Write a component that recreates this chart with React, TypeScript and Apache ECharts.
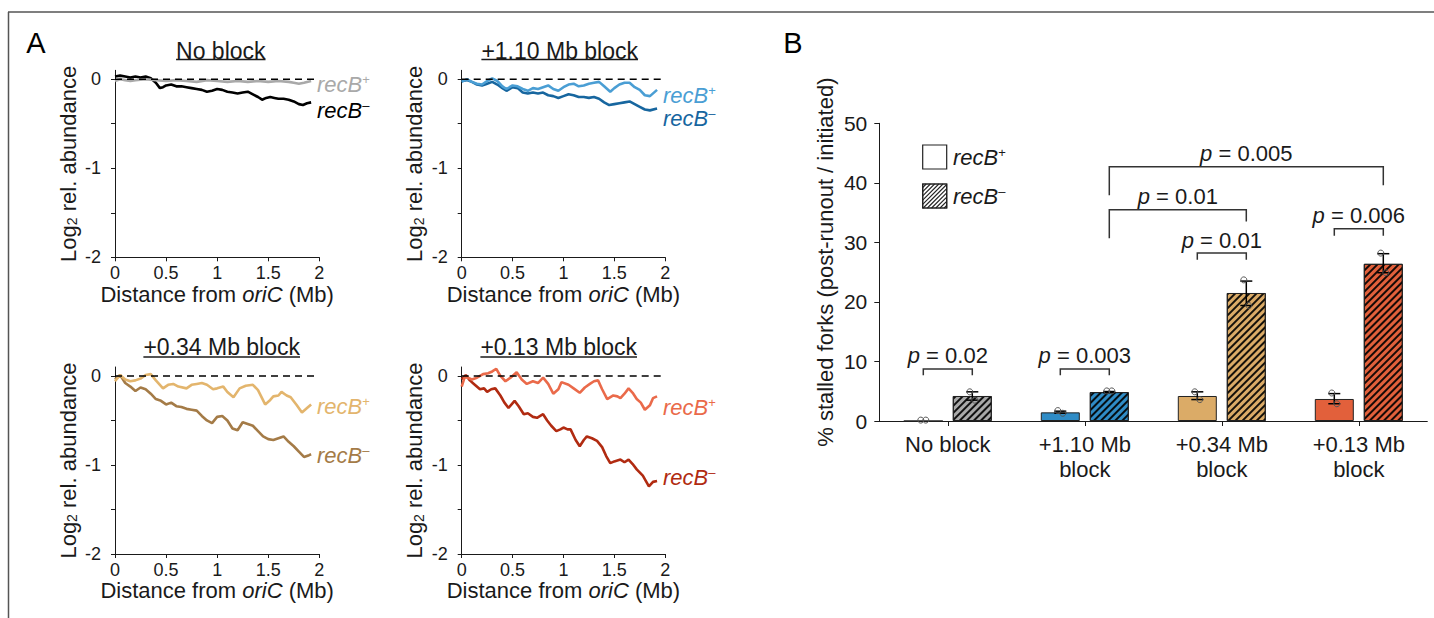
import React, { useEffect, useRef } from 'react';
import * as echarts from 'echarts';

const FONT = '"Liberation Sans", Arial, Helvetica, sans-serif';
const INK = '#1a1a1a';

// ---------------- Panel A data (distance from oriC in Mb, log2 relative abundance) ----------------
const noBlockPlusX = [0, 0.05, 0.1, 0.15, 0.2, 0.3, 0.4, 0.5, 0.6, 0.7, 0.8, 0.9, 1.0, 1.1, 1.2, 1.3, 1.4, 1.5, 1.6, 1.7, 1.75, 1.8, 1.85, 1.92];
const noBlockPlusY = [-0.02, 0.0, -0.01, -0.02, -0.01, 0.0, -0.01, -0.02, -0.01, -0.02, -0.03, -0.01, -0.02, -0.03, -0.02, -0.03, -0.02, -0.03, -0.02, -0.03, -0.04, -0.05, -0.04, -0.02];
const noBlockMinusX = [0, 0.05, 0.1, 0.15, 0.2, 0.25, 0.3, 0.35, 0.4, 0.44, 0.47, 0.5, 0.55, 0.6, 0.65, 0.7, 0.75, 0.8, 0.85, 0.9, 0.95, 1.0, 1.05, 1.1, 1.15, 1.2, 1.25, 1.3, 1.35, 1.4, 1.44, 1.48, 1.52, 1.56, 1.6, 1.65, 1.7, 1.75, 1.8, 1.84, 1.88, 1.92];
const noBlockMinusY = [0.03, 0.04, 0.03, 0.02, 0.03, 0.02, 0.03, 0.01, -0.04, -0.1, -0.09, -0.07, -0.06, -0.08, -0.08, -0.09, -0.1, -0.11, -0.12, -0.14, -0.13, -0.11, -0.12, -0.14, -0.15, -0.16, -0.15, -0.14, -0.17, -0.2, -0.23, -0.21, -0.2, -0.21, -0.22, -0.22, -0.23, -0.25, -0.28, -0.29, -0.27, -0.26];

const b110PlusX = [0, 0.05, 0.1, 0.15, 0.2, 0.25, 0.3, 0.35, 0.4, 0.44, 0.5, 0.55, 0.6, 0.65, 0.7, 0.75, 0.8, 0.85, 0.9, 0.95, 1.0, 1.05, 1.1, 1.15, 1.2, 1.25, 1.3, 1.35, 1.4, 1.46, 1.5, 1.55, 1.6, 1.65, 1.7, 1.75, 1.8, 1.85, 1.92];
const b110PlusY = [-0.03, 0.0, -0.03, -0.05, -0.06, -0.02, 0.01, -0.02, -0.08, -0.11, -0.07, -0.08, -0.11, -0.13, -0.1, -0.11, -0.09, -0.07, -0.11, -0.13, -0.09, -0.06, -0.05, -0.08, -0.07, -0.05, -0.04, -0.03, -0.08, -0.14, -0.1, -0.06, -0.04, -0.04, -0.09, -0.12, -0.18, -0.19, -0.12];
const b110MinusX = [0, 0.05, 0.1, 0.15, 0.2, 0.25, 0.3, 0.35, 0.4, 0.44, 0.5, 0.55, 0.6, 0.65, 0.7, 0.75, 0.8, 0.85, 0.9, 0.95, 1.0, 1.05, 1.1, 1.15, 1.2, 1.25, 1.3, 1.35, 1.4, 1.45, 1.5, 1.55, 1.6, 1.65, 1.7, 1.75, 1.8, 1.85, 1.92];
const b110MinusY = [-0.02, -0.01, -0.03, -0.06, -0.07, -0.05, -0.03, -0.06, -0.1, -0.13, -0.09, -0.1, -0.15, -0.16, -0.15, -0.16, -0.15, -0.18, -0.19, -0.21, -0.19, -0.17, -0.18, -0.2, -0.2, -0.21, -0.2, -0.22, -0.26, -0.29, -0.28, -0.27, -0.26, -0.25, -0.28, -0.31, -0.34, -0.35, -0.33];

const b034PlusX = [0, 0.05, 0.1, 0.15, 0.2, 0.25, 0.3, 0.35, 0.4, 0.47, 0.52, 0.57, 0.62, 0.7, 0.75, 0.8, 0.85, 0.9, 0.96, 1.0, 1.06, 1.1, 1.16, 1.22, 1.28, 1.35, 1.4, 1.47, 1.52, 1.55, 1.6, 1.63, 1.68, 1.72, 1.78, 1.83, 1.88, 1.92];
const b034PlusY = [-0.06, 0.01, -0.04, -0.06, -0.05, -0.03, 0.01, 0.02, -0.05, -0.14, -0.1, -0.09, -0.12, -0.14, -0.1, -0.09, -0.08, -0.1, -0.15, -0.14, -0.12, -0.18, -0.24, -0.14, -0.11, -0.1, -0.16, -0.32, -0.27, -0.23, -0.22, -0.18, -0.22, -0.24, -0.33, -0.41, -0.36, -0.32];
const b034MinusX = [0, 0.05, 0.1, 0.15, 0.2, 0.25, 0.3, 0.35, 0.4, 0.45, 0.5, 0.55, 0.6, 0.65, 0.7, 0.75, 0.8, 0.85, 0.9, 0.95, 1.0, 1.05, 1.1, 1.15, 1.2, 1.25, 1.3, 1.35, 1.4, 1.45, 1.5, 1.55, 1.6, 1.65, 1.7, 1.75, 1.8, 1.85, 1.9, 1.92];
const b034MinusY = [-0.04, 0.01, -0.08, -0.12, -0.17, -0.13, -0.15, -0.2, -0.26, -0.28, -0.32, -0.3, -0.34, -0.35, -0.37, -0.38, -0.39, -0.45, -0.5, -0.53, -0.46, -0.45, -0.5, -0.59, -0.61, -0.52, -0.54, -0.56, -0.62, -0.68, -0.71, -0.72, -0.7, -0.68, -0.74, -0.79, -0.85, -0.91, -0.89, -0.88];

const b013PlusX = [0, 0.03, 0.06, 0.1, 0.15, 0.21, 0.26, 0.3, 0.34, 0.38, 0.43, 0.48, 0.54, 0.59, 0.64, 0.7, 0.75, 0.8, 0.85, 0.9, 0.95, 0.98, 1.05, 1.1, 1.16, 1.21, 1.26, 1.3, 1.34, 1.38, 1.43, 1.49, 1.53, 1.56, 1.6, 1.64, 1.68, 1.72, 1.76, 1.8, 1.85, 1.88, 1.92];
const b013PlusY = [-0.12, -0.01, -0.02, -0.04, -0.02, 0.02, 0.03, 0.05, 0.08, 0.0, -0.06, -0.02, 0.04, -0.04, -0.09, -0.06, -0.08, -0.02, -0.09, -0.2, -0.15, -0.07, -0.1, -0.14, -0.19, -0.13, -0.09, -0.06, -0.05, -0.15, -0.26, -0.22, -0.23, -0.25, -0.2, -0.14, -0.19, -0.26, -0.3, -0.38, -0.33, -0.25, -0.23];
const b013MinusX = [0, 0.04, 0.08, 0.12, 0.18, 0.22, 0.25, 0.29, 0.33, 0.38, 0.42, 0.46, 0.52, 0.56, 0.61, 0.65, 0.7, 0.74, 0.8, 0.84, 0.88, 0.93, 0.97, 1.0, 1.04, 1.07, 1.12, 1.16, 1.2, 1.23, 1.28, 1.33, 1.38, 1.42, 1.46, 1.5, 1.56, 1.6, 1.64, 1.68, 1.72, 1.78, 1.84, 1.88, 1.92];
const b013MinusY = [-0.04, 0.01, -0.05, -0.09, -0.15, -0.14, -0.18, -0.15, -0.14, -0.22, -0.3, -0.36, -0.28, -0.34, -0.43, -0.42, -0.46, -0.47, -0.43, -0.5, -0.56, -0.62, -0.6, -0.58, -0.6, -0.6, -0.72, -0.79, -0.72, -0.68, -0.7, -0.73, -0.8, -0.9, -0.98, -0.96, -0.94, -0.97, -0.94, -0.99, -1.05, -1.12, -1.24, -1.19, -1.18];

const panelTitles = ['No block', '+1.10 Mb block', '+0.34 Mb block', '+0.13 Mb block'];
const panelPlusColors = ['#a9a9a9', '#4a9ed4', '#e3b56d', '#ea6a4a'];
const panelMinusColors = ['#000000', '#17669f', '#a47b47', '#b12b11'];
const baselineX = [0, 1.96];
const baselineY = [0, 0];

// ---------------- Panel B data ----------------
const categories = ['No block', '+1.10 Mb\nblock', '+0.34 Mb\nblock', '+0.13 Mb\nblock'];
const barFill = ['#a9a9a9', '#2f8cc6', '#dbab67', '#e2603b'];
const recBPlusMean = [0, 1.45, 4.2, 3.7];
const recBMinusMean = [4.2, 4.85, 21.5, 26.4];
const recBPlusErrLow = [null, 1.3, 3.6, 2.9];
const recBPlusErrHigh = [null, 1.65, 4.9, 4.6];
const recBMinusErrLow = [3.5, 4.75, 19.4, 24.9];
const recBMinusErrHigh = [4.9, 4.95, 23.5, 28.1];
const recBPlusRepA = [0.15, 1.75, 4.9, 4.7];
const recBPlusRepB = [0.15, 1.3, 3.6, 2.9];
const recBMinusRepA = [4.9, 5.05, 23.7, 28.2];
const recBMinusRepB = [3.5, 5.05, 19.4, 24.9];

const bracketFromCat = [0, 1, 2, 3, 1, 1];
const bracketFromSide = [-1, -1, -1, -1, 1, 1];
const bracketToCat = [0, 1, 2, 3, 2, 3];
const bracketToSide = [1, 1, 1, 1, 1, 1];
const bracketTop = [8.75, 8.75, 28.2, 32.3, 35.5, 42.7];
const bracketLeftEnd = [7.7, 7.7, 27.1, 31.1, 30.7, 37.9];
const bracketRightEnd = [7.7, 7.7, 27.1, 31.1, 33.5, 39.6];
const bracketP = ['0.02', '0.003', '0.01', '0.006', '0.01', '0.005'];

// ---------------- layout ----------------
const A_GRIDS = [
  { left: 115, top: 70.3, width: 204.3, height: 187 },
  { left: 461.7, top: 70.3, width: 203.5, height: 187 },
  { left: 115, top: 367, width: 204.3, height: 187 },
  { left: 461.7, top: 367, width: 203.5, height: 187 },
];
const B_GRID = { left: 879.3, top: 123.3, width: 548, height: 297.7 };
const BAR_OFFSET = 24.5;
const TITLE_POS = [[220.8, 51, 59.5], [559.7, 51, 59.5], [221.7, 347, 357], [558.7, 347, 357]];
const END_LABEL_POS = [[317, 84, 110], [663, 95, 118], [317, 406, 455], [663, 407, 477]];

const HATCH = {
  symbol: 'rect',
  symbolSize: 1,
  dashArrayX: [1, 0],
  dashArrayY: [1.4, 2.4],
  rotation: -Math.PI / 4,
  color: 'rgba(0,0,0,0.9)',
};

function textWidth(t: string, size: number) {
  const c = document.createElement('canvas').getContext('2d');
  if (!c) return t.length * size * 0.5;
  c.font = `${size}px "Liberation Sans", Arial, sans-serif`;
  return c.measureText(t).width;
}

function zip(xs: number[], ys: number[]) {
  return xs.map((x, i) => [x, ys[i]]);
}

function recLabel(sign: string, color: string, size = 22) {
  return {
    text: `{b|recB}{s|${sign}}`,
    rich: {
      b: { fontSize: size, fontStyle: 'italic', fontFamily: FONT, fill: color },
      s: { fontSize: Math.round(size * 0.6), fontFamily: FONT, fill: color, verticalAlign: 'top' },
    },
  };
}

export default function App() {
  const ref = useRef<HTMLDivElement>(null);

  useEffect(() => {
    if (!ref.current) return;
    const chart = echarts.init(ref.current, undefined, { renderer: 'svg' });

    const plusSets = [
      zip(noBlockPlusX, noBlockPlusY),
      zip(b110PlusX, b110PlusY),
      zip(b034PlusX, b034PlusY),
      zip(b013PlusX, b013PlusY),
    ];
    const minusSets = [
      zip(noBlockMinusX, noBlockMinusY),
      zip(b110MinusX, b110MinusY),
      zip(b034MinusX, b034MinusY),
      zip(b013MinusX, b013MinusY),
    ];

    const grids: any[] = A_GRIDS.map((g) => ({ ...g, outerBoundsMode: 'none', containLabel: false }));
    grids.push({ ...B_GRID, outerBoundsMode: 'none', containLabel: false });

    const axisLineStyle = { color: INK, width: 1 };

    const xAxes: any[] = A_GRIDS.map((_, i) => ({
      type: 'value',
      gridIndex: i,
      min: 0,
      max: 2,
      interval: 0.5,
      axisLine: { show: true, onZero: false, lineStyle: axisLineStyle },
      axisTick: { show: true, length: 4, lineStyle: axisLineStyle },
      splitLine: { show: false },
      axisLabel: { fontSize: 18, color: INK, fontFamily: FONT, margin: 7 },
      name: '{n|Distance from }{i|oriC}{n| (Mb)}',
      nameLocation: 'middle',
      nameGap: 24,
      nameTextStyle: {
        color: INK,
        fontSize: 22,
        fontFamily: FONT,
        rich: {
          n: { fontSize: 22, fontFamily: FONT, color: INK },
          i: { fontSize: 22, fontFamily: FONT, fontStyle: 'italic', color: INK },
        },
      },
    }));
    xAxes.push({
      type: 'category',
      gridIndex: 4,
      data: categories,
      axisLine: { show: true, onZero: false, lineStyle: axisLineStyle },
      axisTick: { show: true, alignWithLabel: true, length: 5, lineStyle: axisLineStyle },
      axisLabel: { fontSize: 22, lineHeight: 25, color: INK, fontFamily: FONT, margin: 11 },
      splitLine: { show: false },
    });

    const yAxes: any[] = A_GRIDS.map((_, i) => ({
      type: 'value',
      gridIndex: i,
      min: -2,
      max: 0.1,
      axisLine: { show: true, onZero: false, lineStyle: axisLineStyle },
      axisTick: { show: true, length: 4, lineStyle: axisLineStyle, customValues: [-2, -1.5, -1, -0.5, 0] },
      axisLabel: { fontSize: 18, color: INK, fontFamily: FONT, margin: 14, customValues: [-2, -1, 0] },
      splitLine: { show: false },
      name: '{n|Log}{s|2}{n| rel. abundance}',
      nameLocation: 'middle',
      nameGap: 36,
      nameTextStyle: {
        color: INK,
        fontSize: 22,
        fontFamily: FONT,
        rich: {
          n: { fontSize: 22, fontFamily: FONT, color: INK },
          s: { fontSize: 14, fontFamily: FONT, color: INK, verticalAlign: 'bottom' },
        },
      },
    }));
    yAxes.push({
      type: 'value',
      gridIndex: 4,
      min: 0,
      max: 50,
      interval: 10,
      axisLine: { show: true, onZero: false, lineStyle: axisLineStyle },
      axisTick: { show: true, length: 5, lineStyle: axisLineStyle },
      axisLabel: { fontSize: 21, color: INK, fontFamily: FONT, margin: 12 },
      splitLine: { show: false },
      name: '% stalled forks (post-runout / initiated)',
      nameLocation: 'middle',
      nameGap: 43,
      nameTextStyle: { color: INK, fontSize: 22, fontFamily: FONT, padding: [0, 0, 0, 20] },
    });

    const series: any[] = [];
    A_GRIDS.forEach((_, i) => {
      series.push({
        type: 'line',
        name: `minus${i}`,
        xAxisIndex: i,
        yAxisIndex: i,
        data: minusSets[i],
        symbol: 'none',
        showSymbol: false,
        silent: true,
        lineStyle: { color: panelMinusColors[i], width: 2.6 },
        itemStyle: { color: panelMinusColors[i] },
        z: 2,
      });
      series.push({
        type: 'line',
        name: `plus${i}`,
        xAxisIndex: i,
        yAxisIndex: i,
        data: plusSets[i],
        symbol: 'none',
        showSymbol: false,
        silent: true,
        lineStyle: { color: panelPlusColors[i], width: 2.6 },
        itemStyle: { color: panelPlusColors[i] },
        z: 3,
      });
      series.push({
        type: 'line',
        name: `zero${i}`,
        xAxisIndex: i,
        yAxisIndex: i,
        data: zip(baselineX, baselineY),
        symbol: 'none',
        showSymbol: false,
        silent: true,
        lineStyle: { color: '#000', width: 1.5, type: [7, 5] },
        z: 4,
      });
    });

    series.push({
      type: 'bar',
      name: 'recB+',
      xAxisIndex: 4,
      yAxisIndex: 4,
      barWidth: 39,
      barGap: '25.6%',
      data: recBPlusMean.map((v, i) => ({
        value: v,
        itemStyle: { color: barFill[i], borderColor: '#222', borderWidth: 1 },
      })),
      z: 2,
    });
    series.push({
      type: 'bar',
      name: 'recB-',
      xAxisIndex: 4,
      yAxisIndex: 4,
      barWidth: 39,
      barGap: '25.6%',
      data: recBMinusMean.map((v, i) => ({
        value: v,
        itemStyle: { color: barFill[i], borderColor: '#222', borderWidth: 1, decal: HATCH },
      })),
      z: 2,
    });

    // error bars
    const errData: any[] = [];
    categories.forEach((_, i) => {
      if (recBPlusErrLow[i] != null) errData.push([i, recBPlusErrLow[i], recBPlusErrHigh[i], -1]);
      if (recBMinusErrLow[i] != null) errData.push([i, recBMinusErrLow[i], recBMinusErrHigh[i], 1]);
    });
    series.push({
      type: 'custom',
      xAxisIndex: 4,
      yAxisIndex: 4,
      data: errData,
      encode: { x: 0, y: [1, 2] },
      silent: true,
      z: 5,
      renderItem: (_p: any, api: any) => {
        const c = api.value(0);
        const lo = api.coord([c, api.value(1)]);
        const hi = api.coord([c, api.value(2)]);
        const x = lo[0] + api.value(3) * BAR_OFFSET;
        const st = { stroke: '#000', lineWidth: 1.5 };
        return {
          type: 'group',
          children: [
            { type: 'line', shape: { x1: x, y1: lo[1], x2: x, y2: hi[1] }, style: st },
            { type: 'line', shape: { x1: x - 6, y1: lo[1], x2: x + 6, y2: lo[1] }, style: st },
            { type: 'line', shape: { x1: x - 6, y1: hi[1], x2: x + 6, y2: hi[1] }, style: st },
          ],
        };
      },
    });

    // replicate points
    const repData: any[] = [];
    categories.forEach((_, i) => {
      repData.push([i, recBPlusRepA[i], -1, -2.5]);
      repData.push([i, recBPlusRepB[i], -1, 2.5]);
      repData.push([i, recBMinusRepA[i], 1, -2.5]);
      repData.push([i, recBMinusRepB[i], 1, 2.5]);
    });
    series.push({
      type: 'custom',
      xAxisIndex: 4,
      yAxisIndex: 4,
      data: repData,
      encode: { x: 0, y: 1 },
      silent: true,
      z: 6,
      renderItem: (_p: any, api: any) => {
        const c = api.value(0);
        const p = api.coord([c, api.value(1)]);
        return {
          type: 'circle',
          shape: { cx: p[0] + api.value(2) * BAR_OFFSET + api.value(3), cy: p[1], r: 3 },
          style: { fill: 'none', stroke: '#555', lineWidth: 1 },
        };
      },
    });

    // significance brackets
    const brData = bracketP.map((_, k) => [
      bracketFromCat[k],
      bracketTop[k],
      bracketFromSide[k],
      bracketToCat[k],
      bracketToSide[k],
      bracketLeftEnd[k],
      bracketRightEnd[k],
      k,
    ]);
    series.push({
      type: 'custom',
      xAxisIndex: 4,
      yAxisIndex: 4,
      data: brData,
      encode: { x: 0, y: 1 },
      silent: true,
      z: 7,
      renderItem: (_p: any, api: any) => {
        const fromC = api.value(0);
        const top = api.value(1);
        const fromS = api.value(2);
        const toC = api.value(3);
        const toS = api.value(4);
        const lEnd = api.value(5);
        const rEnd = api.value(6);
        const k = api.value(7);
        const pl = api.coord([fromC, top]);
        const pr = api.coord([toC, top]);
        const yl = api.coord([fromC, lEnd])[1];
        const yr = api.coord([toC, rEnd])[1];
        const x1 = pl[0] + fromS * BAR_OFFSET;
        const x2 = pr[0] + toS * BAR_OFFSET;
        const y = pl[1];
        const st = { stroke: '#333', lineWidth: 1.5, fill: 'none' };
        return {
          type: 'group',
          children: [
            { type: 'polyline', shape: { points: [[x1, yl], [x1, y], [x2, y], [x2, yr]] }, style: st },
            {
              type: 'text',
              x: (x1 + x2) / 2,
              y: y - 2,
              style: {
                text: `{i|p}{n| = ${bracketP[k]}}`,
                align: 'center',
                verticalAlign: 'bottom',
                fill: INK,
                rich: {
                  i: { fontSize: 22, fontStyle: 'italic', fontFamily: FONT, fill: INK },
                  n: { fontSize: 22, fontFamily: FONT, fill: INK },
                },
              },
            },
          ],
        };
      },
    });

    // ---------------- graphic decorations ----------------
    const graphic: any[] = [];
    graphic.push({ type: 'line', shape: { x1: 8, y1: 12, x2: 1434, y2: 12 }, style: { stroke: '#555', lineWidth: 1.5 } });
    graphic.push({ type: 'line', shape: { x1: 8.5, y1: 12, x2: 8.5, y2: 618 }, style: { stroke: '#555', lineWidth: 1.5 } });
    graphic.push({ type: 'text', x: 36, y: 43, style: { text: 'A', fontSize: 29, fontFamily: FONT, fill: '#000', align: 'center', verticalAlign: 'middle' } });
    graphic.push({ type: 'text', x: 793, y: 43, style: { text: 'B', fontSize: 29, fontFamily: FONT, fill: '#000', align: 'center', verticalAlign: 'middle' } });

    panelTitles.forEach((t, i) => {
      const [cx, cy, uy] = TITLE_POS[i];
      const w = textWidth(t, 23);
      graphic.push({ type: 'text', x: cx, y: cy, style: { text: t, fontSize: 23, fontFamily: FONT, fill: INK, align: 'center', verticalAlign: 'middle' } });
      graphic.push({ type: 'line', shape: { x1: cx - w / 2, y1: uy, x2: cx + w / 2, y2: uy }, style: { stroke: INK, lineWidth: 1.5 } });
      const [lx, ly1, ly2] = END_LABEL_POS[i];
      graphic.push({ type: 'text', x: lx, y: ly1, style: { ...recLabel('+', panelPlusColors[i]), align: 'left', verticalAlign: 'middle' } });
      graphic.push({ type: 'text', x: lx, y: ly2, style: { ...recLabel('–', panelMinusColors[i]), align: 'left', verticalAlign: 'middle' } });
    });

    // legend of panel B
    const lx = 922.7;
    const ly1 = 145;
    const ly2 = 184;
    const sz = 24;
    graphic.push({ type: 'rect', shape: { x: lx, y: ly1, width: sz, height: sz }, style: { fill: '#fff', stroke: '#222', lineWidth: 1.2 } });
    graphic.push({ type: 'rect', shape: { x: lx, y: ly2, width: sz, height: sz }, style: { fill: '#fff', stroke: '#222', lineWidth: 1.2 } });
    for (let c = 3.5; c < 2 * sz; c += 4.2) {
      const u1 = Math.max(0, c - sz);
      const u2 = Math.min(c, sz);
      graphic.push({
        type: 'line',
        shape: { x1: lx + u1, y1: ly2 + (c - u1), x2: lx + u2, y2: ly2 + (c - u2) },
        style: { stroke: '#222', lineWidth: 1.1 },
      });
    }
    graphic.push({ type: 'rect', shape: { x: lx, y: ly2, width: sz, height: sz }, style: { fill: 'none', stroke: '#222', lineWidth: 1.2 } });
    graphic.push({ type: 'text', x: 953, y: ly1 + sz / 2, style: { ...recLabel('+', INK), align: 'left', verticalAlign: 'middle' } });
    graphic.push({ type: 'text', x: 953, y: ly2 + sz / 2, style: { ...recLabel('–', INK), align: 'left', verticalAlign: 'middle' } });

    chart.setOption({
      animation: false,
      backgroundColor: '#ffffff',
      textStyle: { fontFamily: FONT },
      grid: grids,
      xAxis: xAxes,
      yAxis: yAxes,
      series,
      graphic,
    });

    return () => chart.dispose();
  }, []);

  return <div ref={ref} style={{ position: 'absolute', left: 0, top: 0, width: 1434, height: 618 }} />;
}
